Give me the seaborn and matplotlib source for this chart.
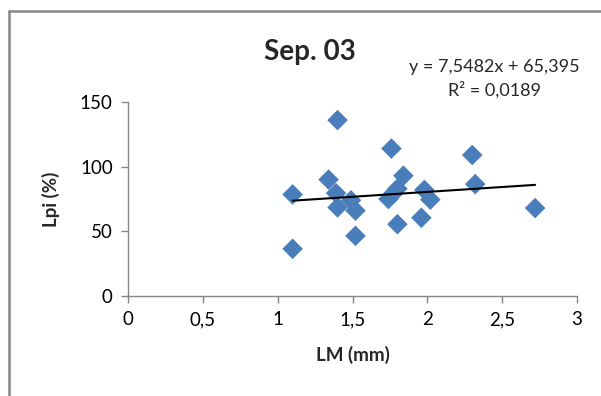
import matplotlib
matplotlib.use("Agg")
import matplotlib.pyplot as plt
import seaborn as sns
import numpy as np
import pandas as pd
from matplotlib.patches import Rectangle

# Data
lm_mm = [1.40, 1.76, 2.30, 1.34, 1.84, 1.10, 1.39, 1.49, 1.40, 1.52,
         1.74, 1.77, 1.80, 1.98, 2.02, 2.32, 2.72, 1.96, 1.80, 1.52, 1.10]
lpi_pct = [136, 114, 109, 90, 93, 78.5, 79.5, 74, 68.5, 66,
           75, 79, 83, 82, 74.5, 86.5, 68, 60.5, 55.5, 46.5, 36.5]
slope = 7.5482
intercept = 65.395
eq_text = "y = 7,5482x + 65,395"
r2_text = "R² = 0,0189"
title = "Sep. 03"
x_ticks = [0, 0.5, 1, 1.5, 2, 2.5, 3]
x_tick_labels = ["0", "0,5", "1", "1,5", "2", "2,5", "3"]
y_ticks = [0, 50, 100, 150]
y_tick_labels = ["0", "50", "100", "150"]

df = pd.DataFrame({"LM": lm_mm, "Lpi": lpi_pct})

sns.set_style("white")
plt.rcParams["font.family"] = ["Lato", "DejaVu Sans"]

fig = plt.figure(figsize=(6.01, 3.96), dpi=100)
ax = fig.add_axes([128 / 601, 1 - 296 / 396, (577 - 128) / 601, (296 - 102) / 396])

sns.scatterplot(data=df, x="LM", y="Lpi", marker="D", s=110, color="#4A7EBB",
                edgecolor="none", ax=ax, zorder=3)

xs = np.array([min(lm_mm), max(lm_mm)])
ax.plot(xs, slope * xs + intercept, color="black", lw=1.5, zorder=4)

ax.set_xlim(0, 3)
ax.set_ylim(0, 150)
ax.set_xticks(x_ticks)
ax.set_xticklabels(x_tick_labels)
ax.set_yticks(y_ticks)
ax.set_yticklabels(y_tick_labels)
ax.tick_params(axis="both", which="both", direction="out", length=5, width=1,
               color="#868686", labelsize=13.5, labelcolor="black", pad=6,
               bottom=True, left=True)
for side in ["top", "right"]:
    ax.spines[side].set_visible(False)
for side in ["left", "bottom"]:
    ax.spines[side].set_color("#868686")
    ax.spines[side].set_linewidth(1)
ax.set_xlabel("LM (mm)", fontsize=13.5, fontweight="bold", labelpad=13)
ax.set_ylabel("Lpi (%)", fontsize=13.5, fontweight="bold", labelpad=14)
ax.patch.set_alpha(0)

fig.text(310 / 601, 1 - 52 / 396, title, fontsize=20, fontweight="bold",
         ha="center", va="center")
fig.text(494 / 601, 1 - 67 / 396, eq_text, fontsize=13, ha="center", va="center")
fig.text(494 / 601, 1 - 90 / 396, r2_text, fontsize=13, ha="center", va="center")

fig.patches.append(Rectangle((8.5 / 601, -0.05), 1.2, (396 - 10.5) / 396 + 0.05,
                             transform=fig.transFigure, fill=False,
                             edgecolor="#888888", lw=1.8))

fig.savefig("out.png", dpi=100)
